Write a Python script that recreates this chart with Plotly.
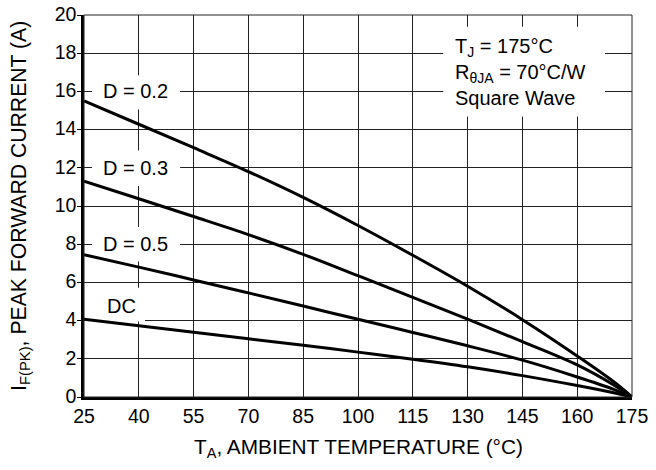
import plotly.graph_objects as go

# ---- data ----
temps = [25, 40, 55, 70, 85, 100, 115, 130, 145, 160, 170, 175]
d02 = [15.5, 14.28, 13.05, 11.8, 10.45, 8.98, 7.42, 5.8, 4.05, 2.15, 0.8, 0.0]
d03 = [11.3, 10.38, 9.45, 8.5, 7.47, 6.35, 5.22, 4.08, 2.9, 1.68, 0.63, 0.0]
d05 = [7.45, 6.8, 6.13, 5.45, 4.76, 4.07, 3.38, 2.68, 1.93, 1.05, 0.4, 0.0]
dc = [4.07, 3.73, 3.39, 3.05, 2.71, 2.35, 1.98, 1.58, 1.12, 0.6, 0.22, 0.0]

x_ticks = [25, 40, 55, 70, 85, 100, 115, 130, 145, 160, 175]
y_ticks = [0, 2, 4, 6, 8, 10, 12, 14, 16, 18, 20]

curve_labels = ["D = 0.2", "D = 0.3", "D = 0.5", "DC"]
label_x = [39.2, 39.2, 39.2, 35.3]
label_y = [16, 12, 8, 4.78]

cond_text = "T<sub>J</sub> = 175°C<br>R<sub>θJA</sub> = 70°C/W<br>Square Wave"
x_title = "T<sub>A</sub>, AMBIENT TEMPERATURE (°C)"
y_title = "I<sub>F(PK)</sub>, PEAK FORWARD CURRENT (A)"

FONT = "Liberation Sans, Arial, Helvetica, sans-serif"
GRID = "#222222"

fig = go.Figure()
for ys in [d02, d03, d05, dc]:
    fig.add_trace(go.Scatter(x=temps, y=ys, mode="lines",
                             line=dict(color="black", width=3, shape="spline", smoothing=1.0),
                             showlegend=False, hoverinfo="skip"))

shapes = []
# white boxes behind curve labels (above grid, below traces)
label_boxes = [(27.2, 51.3, 15.05, 16.85), (27.2, 51.3, 11.05, 12.9),
               (27.2, 51.3, 7.1, 8.9), (25.3, 41.7, 3.95, 5.72)]
for (x0, x1, y0, y1) in label_boxes:
    shapes.append(dict(type="rect", xref="x", yref="y", x0=x0, x1=x1, y0=y0, y1=y1,
                       fillcolor="white", line=dict(width=0), layer="between"))
# conditions box
shapes.append(dict(type="rect", xref="x", yref="y", x0=123.3, x1=167.6, y0=14.68, y1=19.38,
                   fillcolor="white", line=dict(width=0), layer="between"))
# thin frame
shapes.append(dict(type="rect", xref="paper", yref="paper", x0=0, x1=1, y0=0, y1=1,
                   line=dict(color=GRID, width=1), layer="above"))

annotations = []
for t, lx, ly in zip(curve_labels, label_x, label_y):
    annotations.append(dict(x=lx, y=ly, xref="x", yref="y", text=t, showarrow=False,
                            xanchor="center", yanchor="middle",
                            font=dict(family=FONT, size=20, color="black")))
annotations.append(dict(x=125.9, y=17.04, xref="x", yref="y", text=cond_text, showarrow=False,
                        xanchor="left", yanchor="middle", align="left",
                        font=dict(family=FONT, size=20, color="black")))
# axis titles
annotations.append(dict(x=0.5, y=0, xref="paper", yref="paper", text=x_title, showarrow=False,
                        xanchor="center", yanchor="middle", yshift=-51,
                        font=dict(family=FONT, size=20.8, color="black")))
annotations.append(dict(x=0, y=0.5, xref="paper", yref="paper", text=y_title, showarrow=False,
                        xanchor="center", yanchor="middle", xshift=-64, textangle=-90,
                        font=dict(family=FONT, size=21.2, color="black")))

fig.update_layout(
    width=656, height=470,
    margin=dict(l=84, r=24, t=15, b=73),
    paper_bgcolor="white", plot_bgcolor="white",
    font=dict(family=FONT, size=19, color="black"),
    shapes=shapes, annotations=annotations,
    xaxis=dict(range=[25, 175], tickvals=x_ticks, ticktext=[str(v) for v in x_ticks],
               showgrid=True, gridcolor=GRID, gridwidth=1, zeroline=False,
               showline=True, linecolor="black", linewidth=2.5, ticks="",
               automargin=False, ticklabeloverflow="allow",
               tickfont=dict(family=FONT, size=19.5, color="black")),
    yaxis=dict(range=[0, 20], tickvals=y_ticks, ticktext=[str(v) for v in y_ticks],
               showgrid=True, gridcolor=GRID, gridwidth=1, zeroline=False,
               showline=True, linecolor="black", linewidth=2.5,
               ticks="outside", ticklen=4, tickcolor="black", tickwidth=1,
               automargin=False, ticklabeloverflow="allow", ticklabelstandoff=-3,
               ticklabelshift=-1,
               tickfont=dict(family=FONT, size=19.5, color="black")),
)

# remove the browser's default 8px page margin so the figure fills the 656x470 window
fig.write_html("out.html", config={"displayModeBar": False},
               post_script="document.body.style.margin='0px';")
